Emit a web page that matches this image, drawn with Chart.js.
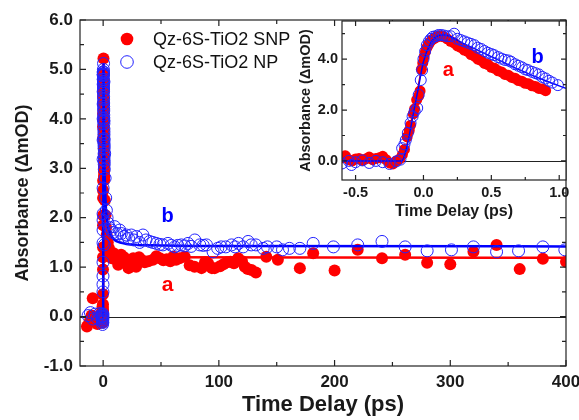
<!DOCTYPE html>
<html>
<head>
<meta charset="utf-8">
<script src="https://cdn.jsdelivr.net/npm/chart.js@4.4.0/dist/chart.umd.min.js"></script>
<style>
  body { margin: 0; background: #fff; }
  #wrap { position: relative; width: 579px; height: 420px; }
  #mainChart { position: absolute; left: 0; top: 0; }
  #insetChart { position: absolute; left: 290px; top: 0; }
</style>
</head>
<body>
<div id="wrap">
  <canvas id="mainChart" width="579" height="420"></canvas>
  <canvas id="insetChart" width="289" height="225"></canvas>
</div>
<script>
// ---- data (time in ps, absorbance in mOD) ----
const legendLabels = ["Qz-6S-TiO2 SNP", "Qz-6S-TiO2 NP"];

// inset: first picosecond
const insetRedT = [-0.6,-0.575,-0.55,-0.525,-0.5,-0.475,-0.45,-0.425,-0.4,-0.375,-0.35,-0.325,-0.3,-0.275,-0.25,-0.225,-0.2,-0.175,-0.155,
  -0.14,-0.12,-0.105,-0.095,-0.075,-0.065,-0.05,-0.035,-0.025,-0.015,-0.005,0.005,0.015,0.025,0.035,0.045,0.06,0.075,0.09,0.105,0.12,0.135,0.15,
  0.175,0.2,0.225,0.25,0.275,0.3,0.325,0.35,0.375,0.4,0.425,0.45,0.475,0.5,0.525,0.55,0.575,0.6,0.625,0.65,0.675,0.7,0.725,0.75,0.775,0.8,0.825,0.85,0.875,0.9];
const insetRedV = [0.12,0.2,0.05,0.0,0.08,0.1,0.02,0.08,0.15,0.05,0.1,0.12,0.18,0.05,-0.08,-0.12,0.0,0.08,0.25,
  0.45,0.95,1.2,1.4,1.85,2.05,2.4,2.55,2.75,3.6,3.85,4.1,4.3,4.45,4.55,4.65,4.75,4.8,4.85,4.9,4.92,4.9,4.88,
  4.8,4.7,4.64,4.52,4.46,4.36,4.31,4.18,4.12,4.0,3.95,3.83,3.79,3.68,3.64,3.54,3.5,3.4,3.37,3.28,3.25,3.16,3.13,3.05,3.03,2.95,2.93,2.85,2.83,2.76];

const insetBlueT = [-0.6,-0.55,-0.53,-0.5,-0.45,-0.4,-0.35,-0.3,-0.25,-0.2,-0.17,-0.157,-0.14,-0.13,-0.115,-0.095,-0.08,-0.065,-0.046,-0.035,
  -0.02,-0.01,0.0,0.012,0.025,0.04,0.055,0.07,0.09,0.11,0.13,0.15,0.175,0.2,0.226,0.25,0.275,0.3,0.325,0.35,
  0.375,0.4,0.425,0.45,0.475,0.5,0.52,0.55,0.575,0.6,0.625,0.645,0.675,0.7,0.725,0.75,0.77,0.8,0.825,0.85,0.875,0.9,0.925,0.95,0.99];
const insetBlueV = [-0.1,0.0,-0.16,-0.05,0.02,-0.08,0.0,-0.05,-0.12,-0.02,0.05,0.5,0.65,0.82,1.1,1.49,1.75,1.95,2.08,2.6,
  3.18,3.57,4.0,4.3,4.55,4.7,4.8,4.88,4.9,4.95,4.95,4.93,4.9,4.9,5.0,4.8,4.75,4.7,4.65,4.6,
  4.55,4.45,4.4,4.32,4.25,4.2,4.16,4.08,4.02,3.97,3.95,3.9,3.8,3.74,3.68,3.6,3.57,3.5,3.45,3.4,3.3,3.24,3.15,3.08,2.98];

const insetRedFitT = [-0.6,-0.16,-0.12,-0.08,-0.04,0,0.05,0.1,0.15,0.3,0.5,0.7,0.9];
const insetRedFitV = [0,0,0.7,1.8,2.9,4.0,4.65,4.9,4.9,4.35,3.72,3.18,2.77];
const insetBlueFitT = [-0.6,-0.16,-0.12,-0.08,-0.04,0,0.05,0.1,0.15,0.3,0.5,0.7,0.9,1.05];
const insetBlueFitV = [0,0,0.6,1.7,2.8,3.9,4.6,4.9,4.95,4.6,4.1,3.6,3.15,2.85];

// main: before zero, the peak, and after the first picosecond
const redPreT = [-14,-12,-10,-9,-7,-5,-3,-1];
const redPreV = [-0.2,-0.12,0.02,0.37,-0.08,-0.15,0.0,0.08];
const redPeakT = [0.3, 0.6];
const redPeakV = [5.22, 4.6];
const redLateT = [1.5,2,2.5,3,4,5,6,7.5,9,11.5,13,15.5,18,20,22,24.5,26,28.5,31,33,36,39,43,46,49,52,55,58,60.5,63,
  66,70.5,74.8,79,85,88,90.7,94,96.4,101,104,107,110,113,116.7,120,122.4,125,128.2,132,
  141,151,170,181.5,200,220,241,261,280,300,320,340,360,380,400];
const redLateV = [2.35,2.05,1.8,1.65,1.5,1.38,1.3,1.18,1.28,1.15,1.05,1.25,1.2,1.08,0.98,1.11,1.18,1.01,1.2,1.15,
  1.1,1.12,1.15,1.22,1.18,1.14,1.16,1.12,1.21,1.15,1.18,1.21,1.04,1.01,0.98,1.1,1.08,0.98,0.98,1.02,
  1.06,1.1,1.11,1.08,1.18,1.12,1.01,0.96,0.94,0.89,1.21,1.15,0.98,1.28,0.93,1.35,1.18,1.25,1.09,1.06,
  1.31,1.45,0.96,1.17,1.11];

const bluePreT = [-13,-11,-9,-7,-5,-3,-1.5,-0.8];
const bluePreV = [0.02,0.08,-0.05,0.05,-0.03,0.06,0.0,0.05];
const bluePeakT = [0.35, 0.7];
const bluePeakV = [5.12, 4.75];
const blueLateT = [1,1.3,1.7,2.2,2.8,3.4,4.2,5.5,7.1,8.5,9.9,12,14.3,15.7,18,20,22,24.4,26.5,28.7,
  31.5,34.4,37,40.2,43,46,49,51.7,56,59,61.9,64.5,67.6,70.5,73.4,76,79.2,83.5,86.5,89.3,
  95,99,102,106,111,114,117,121,125.3,128,132,138.3,142,150,155,161,170,181.5,199,220,
  241,261,280,301,320,340,359,380,399];
const blueLateV = [1.45,3.3,2.8,2.4,2.15,2.0,1.89,1.8,1.75,1.7,1.82,1.68,1.75,1.68,1.62,1.65,1.58,1.65,1.55,1.62,
  1.5,1.65,1.55,1.52,1.5,1.48,1.46,1.45,1.48,1.44,1.41,1.44,1.45,1.43,1.48,1.42,1.55,1.45,1.44,1.45,
  1.31,1.38,1.41,1.41,1.45,1.41,1.48,1.41,1.52,1.45,1.45,1.38,1.41,1.41,1.35,1.38,1.38,1.48,1.41,1.45,
  1.52,1.41,1.33,1.35,1.41,1.31,1.33,1.41,1.35];

const mainRedFitT = [-1,0,0.3,1,2,3,5,10,20,50,400];
const mainRedFitV = [0,0,5.2,3.0,2.1,1.7,1.4,1.28,1.22,1.2,1.19];
const mainBlueFitT = [-1,0,0.3,1,2,3,5,8,12,20,30,50,80,400];
const mainBlueFitV = [0,0,5.1,3.3,2.4,2.0,1.75,1.6,1.52,1.47,1.45,1.44,1.43,1.42];

// ticks
const mainXTicks = [0, 100, 200, 300, 400];
const mainXMinor = [50, 150, 250, 350];
const mainYTicks = [-1, 0, 1, 2, 3, 4, 5, 6];
const mainYMinor = [-0.5, 0.5, 1.5, 2.5, 3.5, 4.5, 5.5];
const insetXTicks = [-0.5, 0, 0.5, 1.0];
const insetXMinor = [-0.25, 0.25, 0.75];
const insetYTicks = [0, 2, 4];
const insetYMinor = [1, 3, 5];

// curve labels
const mainNotes = [
  { text: "b", t: 55.8, v: 2.03, color: "#0000ff", size: 20 },
  { text: "a", t: 55.8, v: 0.64, color: "#ff0000", size: 21 }
];
const insetNotes = [
  { text: "a", t: 0.183, v: 3.57, color: "#ff0000", size: 20 },
  { text: "b", t: 0.84, v: 4.08, color: "#0000ff", size: 20 }
];

const FONT = '"Liberation Sans", Arial, sans-serif';
const RED = "#ff0000";
const BLUE = "#0000ff";
const BLUE_SYM = "#2222ff";
const INK = "#1a1a1a";

const pts = (ts, vs) => ts.map((t, i) => ({ x: t, y: vs[i] }));

// frame, inward ticks and zero line
const axisFrame = {
  id: "axisFrame",
  beforeDraw(chart, args, o) {
    if (!o.fill) return;
    const { ctx, chartArea: a } = chart;
    ctx.save();
    ctx.fillStyle = "#fff";
    ctx.fillRect(a.left, a.top, a.right - a.left, a.bottom - a.top);
    ctx.restore();
  },
  beforeDatasetsDraw(chart) {
    const { ctx, chartArea: a, scales: { y } } = chart;
    const py = Math.round(y.getPixelForValue(0)) + 0.5;
    ctx.save();
    ctx.strokeStyle = "#222";
    ctx.lineWidth = 1;
    ctx.beginPath();
    ctx.moveTo(a.left, py);
    ctx.lineTo(a.right, py);
    ctx.stroke();
    ctx.restore();
  },
  afterDraw(chart, args, o) {
    const { ctx, chartArea: a, scales: { x, y } } = chart;
    ctx.save();
    ctx.strokeStyle = "#222";
    ctx.lineWidth = 1.2;
    ctx.strokeRect(a.left, a.top, a.right - a.left, a.bottom - a.top);
    ctx.beginPath();
    const xt = (vals, len) => vals.forEach(v => {
      const p = x.getPixelForValue(v);
      ctx.moveTo(p, a.bottom); ctx.lineTo(p, a.bottom - len);
      ctx.moveTo(p, a.top); ctx.lineTo(p, a.top + len);
    });
    const yt = (vals, len) => vals.forEach(v => {
      const p = y.getPixelForValue(v);
      ctx.moveTo(a.left, p); ctx.lineTo(a.left + len, p);
      ctx.moveTo(a.right, p); ctx.lineTo(a.right - len, p);
    });
    xt(o.xMajor, o.major); xt(o.xMinor, o.minor);
    yt(o.yMajor, o.major); yt(o.yMinor, o.minor);
    ctx.stroke();
    ctx.restore();
  }
};

const curveNotes = {
  id: "curveNotes",
  afterDatasetsDraw(chart, args, o) {
    const { ctx, scales: { x, y } } = chart;
    ctx.save();
    ctx.textAlign = "center";
    ctx.textBaseline = "middle";
    o.items.forEach(n => {
      ctx.font = `bold ${n.size}px ${FONT}`;
      ctx.fillStyle = n.color;
      ctx.fillText(n.text, x.getPixelForValue(n.t), y.getPixelForValue(n.v));
    });
    ctx.restore();
  }
};

const innerLegend = {
  id: "innerLegend",
  afterDraw(chart) {
    const { ctx, chartArea: a } = chart;
    ctx.save();
    ctx.font = `18px ${FONT}`;
    ctx.textBaseline = "middle";
    [0, 1].forEach(i => {
      const ds = chart.data.datasets[i];
      const cx = a.left + 47, cy = a.top + 19 + i * 23;
      ctx.beginPath();
      ctx.arc(cx, cy, 6.3, 0, Math.PI * 2);
      ctx.fillStyle = ds.pointBackgroundColor;
      ctx.fill();
      if (ds.pointBorderWidth > 0) {
        ctx.lineWidth = ds.pointBorderWidth;
        ctx.strokeStyle = ds.pointBorderColor;
        ctx.stroke();
      }
      ctx.fillStyle = "#111";
      ctx.fillText(ds.label, a.left + 73, cy + 1);
    });
    ctx.restore();
  }
};

function makeScales(cfg) {
  return {
    x: {
      type: "linear", min: cfg.xMin, max: cfg.xMax,
      afterBuildTicks: s => { s.ticks = cfg.xTicks.map(v => ({ value: v })); },
      afterFit: s => { s.height = cfg.xHeight; s.paddingLeft = 0; s.paddingRight = 0; },
      grid: { display: false, drawTicks: false },
      border: { display: false },
      ticks: {
        padding: cfg.xPad, color: INK, maxRotation: 0, autoSkip: false,
        font: { size: cfg.tickSize, weight: "bold", family: FONT },
        callback: cfg.xFmt
      },
      title: {
        display: true, text: "Time Delay (ps)", color: INK,
        font: { size: cfg.xTitleSize, weight: "bold", family: FONT },
        padding: { top: 0, bottom: cfg.xTitlePad }
      }
    },
    y: {
      type: "linear", min: cfg.yMin, max: cfg.yMax,
      afterBuildTicks: s => { s.ticks = cfg.yTicks.map(v => ({ value: v })); },
      afterFit: s => { s.width = cfg.yWidth; s.paddingTop = 0; s.paddingBottom = 0; },
      grid: { display: false, drawTicks: false },
      border: { display: false },
      ticks: {
        padding: cfg.yPad, color: INK, autoSkip: false,
        font: { size: cfg.tickSize, weight: "bold", family: FONT },
        callback: v => v.toFixed(1)
      },
      title: {
        display: true, text: "Absorbance (\u0394mOD)", color: INK,
        font: { size: cfg.yTitleSize, weight: "bold", family: FONT },
        padding: { top: cfg.yTitlePad, bottom: 0 }
      }
    }
  };
}

function makeSets(redPts, bluePts, redFit, blueFit, r, lw) {
  return [
    { label: legendLabels[0], data: redPts, showLine: false, pointRadius: r,
      pointBackgroundColor: RED, pointBorderColor: RED, pointBorderWidth: 0, order: 4 },
    { label: legendLabels[1], data: bluePts, showLine: false, pointRadius: r,
      pointBackgroundColor: "rgba(0,0,0,0)", pointBorderColor: BLUE_SYM, pointBorderWidth: 1, order: 1 },
    { label: "fit a", data: redFit, showLine: true, pointRadius: 0, borderColor: RED,
      borderWidth: lw, cubicInterpolationMode: "monotone", order: 3 },
    { label: "fit b", data: blueFit, showLine: true, pointRadius: 0, borderColor: BLUE,
      borderWidth: lw, cubicInterpolationMode: "monotone", order: 2 }
  ];
}

const commonPlugins = { legend: { display: false }, tooltip: { enabled: false } };

new Chart(document.getElementById("mainChart"), {
  type: "scatter",
  data: {
    datasets: makeSets(
      pts(redPreT.concat(insetRedT, redPeakT, redLateT), redPreV.concat(insetRedV, redPeakV, redLateV)),
      pts(bluePreT.concat(insetBlueT, bluePeakT, blueLateT), bluePreV.concat(insetBlueV, bluePeakV, blueLateV)),
      pts(mainRedFitT, mainRedFitV),
      pts(mainBlueFitT, mainBlueFitV),
      6, 2.5)
  },
  options: {
    responsive: false, animation: false, devicePixelRatio: 1,
    layout: { padding: { left: 0, right: 13, top: 20, bottom: 0 } },
    scales: makeScales({
      xMin: -20, xMax: 400, xTicks: mainXTicks, yMin: -1, yMax: 6, yTicks: mainYTicks,
      xHeight: 54, yWidth: 80, xPad: 6, yPad: 7, tickSize: 17,
      xTitleSize: 22, xTitlePad: 2, yTitleSize: 18, yTitlePad: 12,
      xFmt: v => String(v)
    }),
    plugins: Object.assign({}, commonPlugins, {
      axisFrame: { fill: false, xMajor: mainXTicks, xMinor: mainXMinor, yMajor: mainYTicks, yMinor: mainYMinor, major: 6, minor: 4 },
      curveNotes: { items: mainNotes }
    })
  },
  plugins: [axisFrame, curveNotes, innerLegend]
});

new Chart(document.getElementById("insetChart"), {
  type: "scatter",
  data: {
    datasets: makeSets(
      pts(insetRedT, insetRedV),
      pts(insetBlueT, insetBlueV),
      pts(insetRedFitT, insetRedFitV),
      pts(insetBlueFitT, insetBlueFitV),
      5.5, 1.5)
  },
  options: {
    responsive: false, animation: false, devicePixelRatio: 1,
    layout: { padding: { left: 0, right: 13, top: 21, bottom: 0 } },
    scales: makeScales({
      xMin: -0.6, xMax: 1.05, xTicks: insetXTicks, yMin: -0.75, yMax: 5.5, yTicks: insetYTicks,
      xHeight: 45, yWidth: 52, xPad: 4, yPad: 4, tickSize: 14.5,
      xTitleSize: 16, xTitlePad: 4, yTitleSize: 14.5, yTitlePad: 7,
      xFmt: v => v.toFixed(1)
    }),
    plugins: Object.assign({}, commonPlugins, {
      axisFrame: { fill: true, xMajor: insetXTicks, xMinor: insetXMinor, yMajor: insetYTicks, yMinor: insetYMinor, major: 5, minor: 3 },
      curveNotes: { items: insetNotes }
    })
  },
  plugins: [axisFrame, curveNotes]
});
</script>
</body>
</html>
